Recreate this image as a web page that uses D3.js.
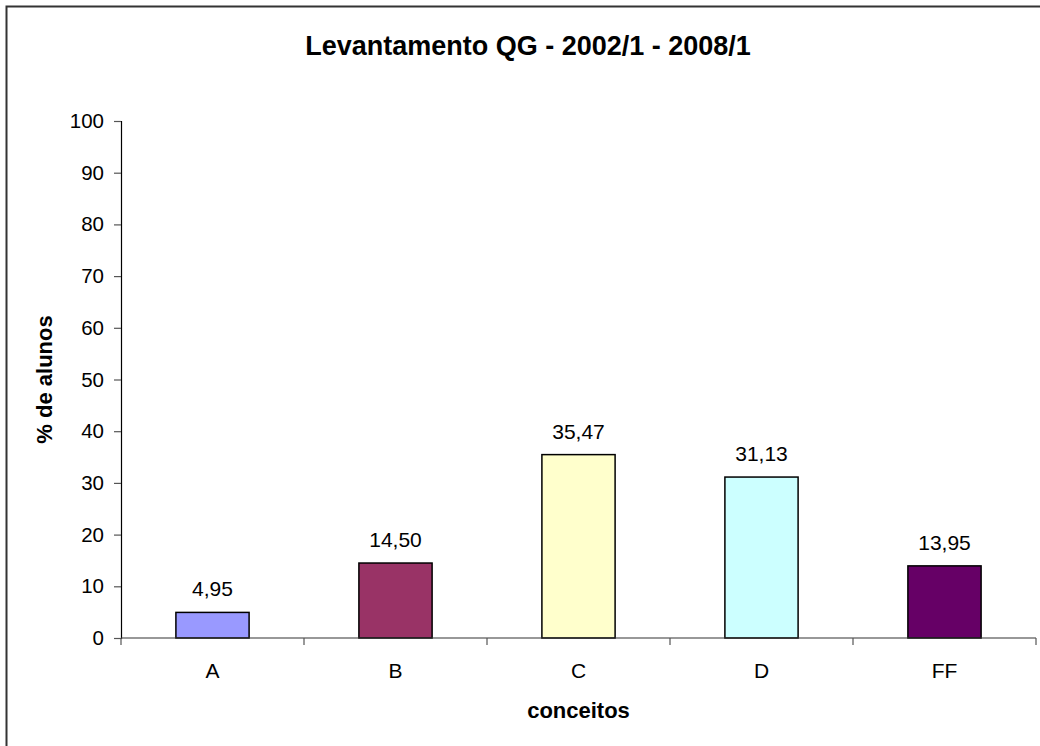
<!DOCTYPE html>
<html>
<head>
<meta charset="utf-8">
<script src="https://cdn.jsdelivr.net/npm/d3@7"></script>
<style>
  body { margin: 0; background: #fff; }
  text { font-family: "Liberation Sans", Arial, sans-serif; fill: #000; }
</style>
</head>
<body>
<div id="chart"></div>
<script>
(function() {
"use strict";

// chart data
var categories = ["A", "B", "C", "D", "FF"];
var values = [4.95, 14.50, 35.47, 31.13, 13.95];
var valueLabels = ["4,95", "14,50", "35,47", "31,13", "13,95"];
var barColors = ["#9999ff", "#993366", "#ffffcc", "#ccffff", "#660066"];
var yTicks = [0, 10, 20, 30, 40, 50, 60, 70, 80, 90, 100];

var width = 1040;
var height = 746;
var plot = { left: 121, right: 1036, top: 121, bottom: 638 };

var svg = d3.select("#chart")
    .append("svg")
    .attr("width", width)
    .attr("height", height);

// outer frame (runs off the right and bottom edges)
svg.append("rect")
    .attr("x", 6.5).attr("y", 6.5)
    .attr("width", 1040).attr("height", 746)
    .attr("fill", "#fff")
    .attr("stroke", "#333")
    .attr("stroke-width", 2);

var x = d3.scaleBand().domain(categories).range([plot.left, plot.right]).padding(0);
var y = d3.scaleLinear().domain([0, 100]).range([plot.bottom, plot.top]);

var barW = x.bandwidth() * 0.4; // gap width 150%

// bars
svg.selectAll(".bar")
    .data(values)
    .enter().append("rect")
    .attr("class", "bar")
    .attr("x", function(d, i) { return x(categories[i]) + (x.bandwidth() - barW) / 2; })
    .attr("y", function(d) { return y(d); })
    .attr("width", barW)
    .attr("height", function(d) { return y(0) - y(d); })
    .attr("fill", function(d, i) { return barColors[i]; })
    .attr("stroke", "#000")
    .attr("stroke-width", 1.5);

// value labels
svg.selectAll(".val")
    .data(values)
    .enter().append("text")
    .attr("class", "val")
    .attr("x", function(d, i) { return x(categories[i]) + x.bandwidth() / 2; })
    .attr("y", function(d) { return y(d) - 16; })
    .attr("text-anchor", "middle")
    .style("font-size", "21px")
    .text(function(d, i) { return valueLabels[i]; });

// y axis
var yAxis = svg.append("g")
    .attr("transform", "translate(" + plot.left + ",0)")
    .call(d3.axisLeft(y).tickValues(yTicks).tickSize(7).tickPadding(10).tickFormat(d3.format("d")));
yAxis.select(".domain").attr("stroke", "#000").attr("stroke-width", 1.2);
yAxis.selectAll(".tick line").attr("stroke", "#555").attr("stroke-width", 1.2);
yAxis.selectAll(".tick text")
    .style("font-size", "20.5px")
    .style("font-family", "'Liberation Sans', Arial, sans-serif")
    .attr("fill", "#000");

// x axis, ticks sit on the band edges
var xAxis = svg.append("g")
    .attr("transform", "translate(0," + plot.bottom + ")");
xAxis.append("line")
    .attr("x1", plot.left).attr("x2", plot.right)
    .attr("stroke", "#333").attr("stroke-width", 1.2);
var edges = categories.map(function(c) { return x(c); }).concat([plot.right]);
xAxis.selectAll(".edge")
    .data(edges)
    .enter().append("line")
    .attr("class", "edge")
    .attr("x1", function(d) { return d; }).attr("x2", function(d) { return d; })
    .attr("y1", 0).attr("y2", 7)
    .attr("stroke", "#555").attr("stroke-width", 1.2);
xAxis.selectAll(".cat")
    .data(categories)
    .enter().append("text")
    .attr("class", "cat")
    .attr("x", function(d) { return x(d) + x.bandwidth() / 2; })
    .attr("y", 40)
    .attr("text-anchor", "middle")
    .style("font-size", "21px")
    .text(function(d) { return d; });

// titles
svg.append("text")
    .attr("x", 528).attr("y", 55)
    .attr("text-anchor", "middle")
    .style("font-size", "27px").style("font-weight", "bold")
    .text("Levantamento QG - 2002/1 - 2008/1");

svg.append("text")
    .attr("x", (plot.left + plot.right) / 2).attr("y", 718)
    .attr("text-anchor", "middle")
    .style("font-size", "22px").style("font-weight", "bold")
    .text("conceitos");

svg.append("text")
    .attr("transform", "translate(52," + ((plot.top + plot.bottom) / 2) + ") rotate(-90)")
    .attr("text-anchor", "middle")
    .style("font-size", "22px").style("font-weight", "bold")
    .text("% de alunos");

})();
</script>
</body>
</html>
